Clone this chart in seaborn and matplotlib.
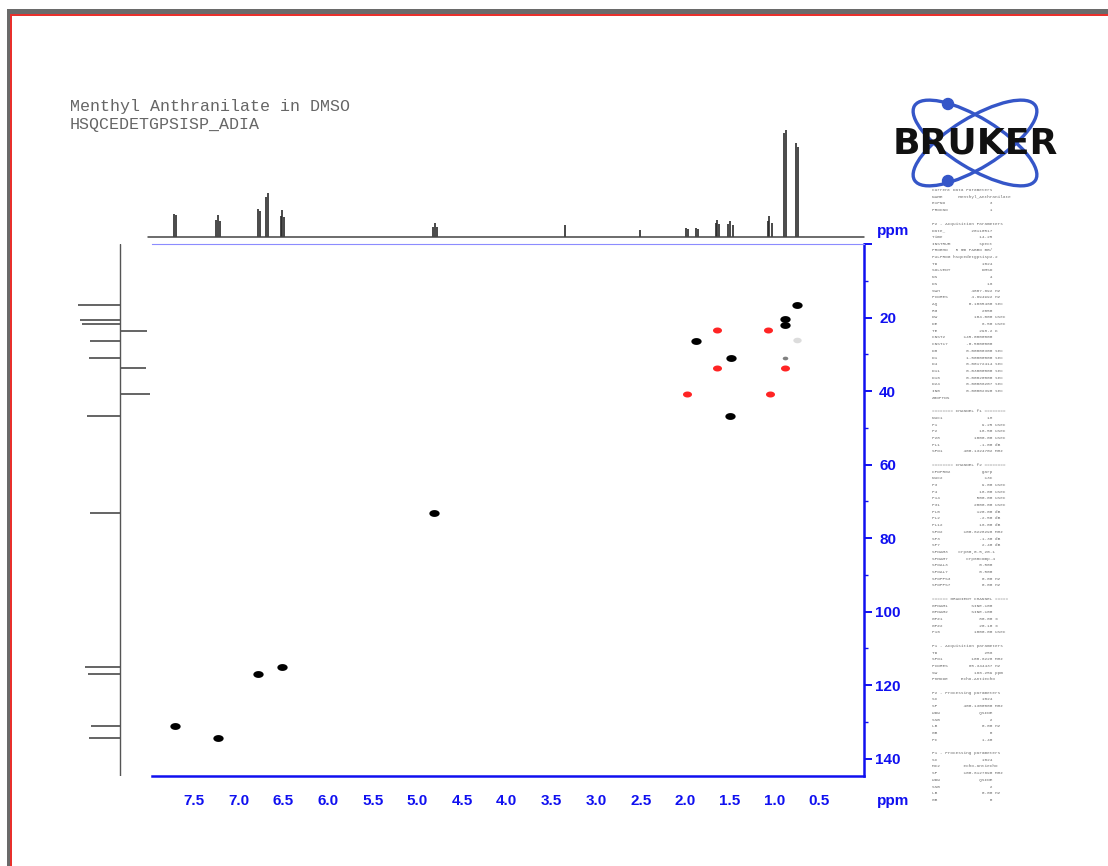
import numpy as np
import pandas as pd
import seaborn as sns
import matplotlib.pyplot as plt
from matplotlib.patches import Ellipse, Rectangle

# ---- data ----
# HSQC cross peaks: (1H ppm, 13C ppm)
pos_h = [0.75, 0.88, 0.88, 1.88, 1.49, 1.50, 4.81, 6.51, 6.78, 7.71, 7.23]
pos_c = [16.6, 20.4, 22.1, 26.4, 31.1, 46.9, 73.1, 115.0, 116.9, 131.1, 134.4]
neg_h = [1.65, 1.08, 1.65, 0.88, 1.98, 1.05]
neg_c = [23.4, 23.4, 33.8, 33.8, 40.9, 40.9]
weak_h = [0.75, 0.88]
weak_c = [26.2, 31.1]

# 13C projection on the left (ppm, length; negative = CH2, drawn to the right)
proj_c = [16.6, 20.6, 21.8, 23.6, 26.5, 31.1, 33.8, 40.9, 46.9, 73.1, 115.0, 116.9, 131.1, 134.4]
proj_int = [42, 40, 38, -27, 30, 31, -26, -30, 33, 30, 35, 32, 29, 31]

# 1H spectrum on top (ppm, height)
h1_ppm = [7.72, 7.70, 7.25, 7.23, 7.21, 6.78, 6.76, 6.69, 6.67, 6.53, 6.51, 6.49,
          4.82, 4.80, 4.78, 3.35, 2.51, 1.99, 1.97, 1.88, 1.86, 1.66, 1.64, 1.62,
          1.52, 1.50, 1.47, 1.08, 1.06, 1.03, 0.89, 0.87, 0.76, 0.74]
h1_int = [23, 22, 17, 22, 16, 28, 26, 40, 44, 21, 27, 20,
          10, 14, 10, 12, 7, 9, 8, 9, 8, 14, 17, 13,
          13, 16, 12, 16, 21, 14, 104, 107, 94, 90]

x_ticks = [7.5, 7.0, 6.5, 6.0, 5.5, 5.0, 4.5, 4.0, 3.5, 3.0, 2.5, 2.0, 1.5, 1.0, 0.5]
y_ticks = [0, 20, 40, 60, 80, 100, 120, 140]
y_labels = ['', '20', '40', '60', '80', '100', '120', '140']

title_lines = ['Menthyl Anthranilate in DMSO', 'HSQCEDETGPSISP_ADIA']

params = [
    'Current Data Parameters', 'NAME      Menthyl_Anthranilate', 'EXPNO                 3',
    'PROCNO                1', '',
    'F2 - Acquisition Parameters', 'Date_          20110517', 'Time              14.25',
    'INSTRUM           spect', 'PROBHD   5 mm PABBO BB/', 'PULPROG hsqcedetgpsisp2.2',
    'TD                 1024', 'SOLVENT            DMSO', 'NS                    4',
    'DS                   16', 'SWH            4807.692 Hz', 'FIDRES         4.694992 Hz',
    'AQ            0.1065460 sec', 'RG                 2050', 'DW              104.000 usec',
    'DE                 6.50 usec', 'TE                298.2 K', 'CNST2       145.0000000',
    'CNST17       -0.5000000', 'D0           0.00000300 sec', 'D1           1.50000000 sec',
    'D4           0.00172414 sec', 'D11          0.03000000 sec', 'D16          0.00020000 sec',
    'D24          0.00086207 sec', 'IN0          0.00002390 sec', 'ZGOPTNS', '',
    '======== CHANNEL f1 ========', 'NUC1                 1H', 'P1                 9.25 usec',
    'P2                18.50 usec', 'P28             1000.00 usec', 'PL1               -1.00 dB',
    'SFO1        400.1324702 MHz', '',
    '======== CHANNEL f2 ========', 'CPDPRG2            garp', 'NUC2                13C',
    'P3                 9.00 usec', 'P4                18.00 usec', 'P14              500.00 usec',
    'P31             2000.00 usec', 'PL0              120.00 dB', 'PL2               -2.50 dB',
    'PL12              16.00 dB', 'SFO2        100.6228298 MHz', 'SP3               -1.30 dB',
    'SP7                2.40 dB', 'SPNAM3    Crp60,0.5,20.1', 'SPNAM7       Crp60comp.4',
    'SPOAL3            0.500', 'SPOAL7            0.500', 'SPOFFS3            0.00 Hz',
    'SPOFFS7            0.00 Hz', '',
    '====== GRADIENT CHANNEL =====', 'GPNAM1         SINE.100', 'GPNAM2         SINE.100',
    'GPZ1              80.00 %', 'GPZ2              20.10 %', 'P16             1000.00 usec', '',
    'F1 - Acquisition parameters', 'TD                  256', 'SFO1           100.6228 MHz',
    'FIDRES        65.344437 Hz', 'SW              166.259 ppm', 'FnMODE     Echo-Antiecho', '',
    'F2 - Processing parameters', 'SI                 1024', 'SF          400.1300000 MHz',
    'WDW               QSINE', 'SSB                   2', 'LB                 0.00 Hz',
    'GB                    0', 'PC                 1.40', '',
    'F1 - Processing parameters', 'SI                 1024', 'MC2         echo-antiecho',
    'SF          100.6127690 MHz', 'WDW               QSINE', 'SSB                   2',
    'LB                 0.00 Hz', 'GB                    0',
]

# ---- figure ----
sns.set_style("white")
plt.rcParams['font.family'] = ['Liberation Sans', 'DejaVu Sans']

W, H = 1108, 866
fig = plt.figure(figsize=(W / 100, H / 100), dpi=100)
fig.patch.set_facecolor('white')


def box(x0, y0, x1, y1):
    # pixel box -> figure fraction rect
    return [x0 / W, 1 - y1 / H, (x1 - x0) / W, (y1 - y0) / H]


blue = '#1010f0'
xlim = (7.97, 0.0)
ylim = (144.7, 0.0)

# main 2D axes
ax = fig.add_axes(box(152, 244, 864, 776))
t = np.linspace(0, 2 * np.pi, 40)
oval = list(zip(1.5 * np.cos(t), np.sin(t)))

peaks = pd.DataFrame({'h': pos_h + neg_h, 'c': pos_c + neg_c,
                      'phase': ['pos'] * len(pos_h) + ['neg'] * len(neg_h)})
sns.scatterplot(data=peaks[peaks.phase == 'pos'], x='h', y='c', color='black',
                marker=oval, s=55, linewidth=0, legend=False, ax=ax)
sns.scatterplot(data=peaks[peaks.phase == 'neg'], x='h', y='c', color='#ff2424',
                marker=oval, s=42, linewidth=0, legend=False, ax=ax)
sns.scatterplot(x=weak_h[:1], y=weak_c[:1], color='#dcdcdc', marker=oval, s=36,
                linewidth=0, ax=ax)
sns.scatterplot(x=weak_h[1:], y=weak_c[1:], color='#808080', marker=oval, s=16,
                linewidth=0, ax=ax)

ax.set_xlim(*xlim)
ax.set_ylim(*ylim)
ax.set_xlabel('')
ax.set_ylabel('')
ax.set_facecolor('white')
ax.spines['left'].set_visible(False)
ax.spines['top'].set_color('#8c8cff')
ax.spines['top'].set_linewidth(0.8)
ax.spines['right'].set_color(blue)
ax.spines['right'].set_linewidth(1.8)
ax.spines['bottom'].set_color(blue)
ax.spines['bottom'].set_linewidth(1.8)

ax.yaxis.tick_right()
ax.set_xticks(x_ticks)
ax.set_xticklabels([f'{v:.1f}' for v in x_ticks], fontweight='bold', fontsize=11,
                   color=blue)
ax.set_xticks(np.arange(0.1, 7.95, 0.1), minor=True)
ax.set_yticks(y_ticks)
ax.set_yticklabels(y_labels, fontweight='bold', fontsize=11, color=blue)
ax.set_yticks(np.arange(10, 145, 20), minor=True)
ax.tick_params(axis='x', which='major', direction='out', length=6, width=1.4,
               color=blue, pad=7)
ax.tick_params(axis='x', which='minor', direction='out', length=3, width=1,
               color=blue)
ax.tick_params(axis='y', which='major', direction='out', length=6, width=1.4,
               color=blue, pad=11)
ax.tick_params(axis='y', which='minor', direction='out', length=3, width=1,
               color=blue)
for lbl in ax.get_yticklabels():
    lbl.set_horizontalalignment('center')

# top 1H trace
ax_top = fig.add_axes(box(148, 120, 864, 237))
ax_top.vlines(h1_ppm, 0, h1_int, color='#2a2a2a', lw=1.2)
ax_top.axhline(0, color='#444444', lw=1.1, clip_on=False)
ax_top.set_xlim(xlim[0] + 4 / 89.3, xlim[1])
ax_top.set_ylim(0, 117)
ax_top.axis('off')

# left 13C projection
ax_left = fig.add_axes(box(60, 244, 152, 776))
ax_left.hlines(proj_c, 0, [-v for v in proj_int], color='#3a3a3a', lw=1.1)
ax_left.axvline(0, color='#555555', lw=1.0)
ax_left.set_xlim(-60, 32)
ax_left.set_ylim(*ylim)
ax_left.axis('off')

# ppm labels
fig.text(893 / W, 1 - 231 / H, 'ppm', color=blue, fontsize=11, fontweight='bold',
         ha='center', va='center')
fig.text(893 / W, 1 - 801 / H, 'ppm', color=blue, fontsize=11, fontweight='bold',
         ha='center', va='center')

# decorations in pixel coordinates
deco = fig.add_axes([0, 0, 1, 1])
deco.set_xlim(0, W)
deco.set_ylim(H, 0)
deco.axis('off')
deco.patch.set_alpha(0)

deco.add_patch(Rectangle((7, 9), W, 4.5, color='#6a6a6a', lw=0))
deco.add_patch(Rectangle((7, 9), 2.5, H, color='#6a6a6a', lw=0))
deco.add_patch(Rectangle((9.5, 13.5), W, 2.5, color='#e8302c', lw=0))
deco.add_patch(Rectangle((9.5, 13.5), 2.5, H, color='#e8302c', lw=0))

for i, line in enumerate(title_lines):
    deco.text(70, 107 + 18 * i, line, family='Liberation Mono', fontsize=12,
              color='#666666', ha='left', va='center')

# Bruker logo
logo_blue = '#3556c8'
for ang in (31.6, -31.6):
    deco.add_patch(Ellipse((975, 143), 142, 50, angle=ang, fill=False,
                           edgecolor=logo_blue, lw=2.4))
deco.add_patch(Ellipse((948, 104), 11, 11, color=logo_blue))
deco.add_patch(Ellipse((948, 181), 11, 11, color=logo_blue))
deco.text(975, 143, 'BRUKER', ha='center', va='center', fontsize=26,
          fontweight='heavy', color='#111111', family='DejaVu Sans')

# parameter listing
step = (800 - 190) / (len(params) - 1)
for i, line in enumerate(params):
    deco.text(932, 190 + i * step, line, family='Liberation Mono', fontsize=3.2,
              color='#6a6a6a', ha='left', va='center')

fig.savefig('out.png', dpi=100)
